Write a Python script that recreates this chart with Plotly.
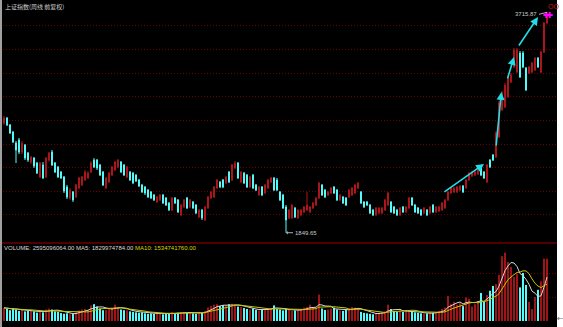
import plotly.graph_objects as go
import pandas as pd

# ---------------- data (weekly) ----------------
opens = [2779, 2821, 2762, 2702, 2609, 2635, 2533, 2592, 2525, 2449,
         2482, 2440, 2322, 2423, 2322, 2465, 2533, 2440, 2406, 2364,
         2322, 2237, 2144, 2195, 2152, 2228, 2254, 2296, 2313, 2364,
         2465, 2465, 2423, 2364, 2228, 2279, 2338, 2381, 2406, 2449,
         2423, 2322, 2364, 2355, 2338, 2296, 2254, 2237, 2211, 2195,
         2169, 2110, 2127, 2169, 2144, 2101, 2042, 2144, 2127, 2000,
         2068, 2144, 2068, 2110, 2084, 1983, 2042, 1957, 2059, 2144,
         2152, 2228, 2279, 2296, 2271, 2364, 2296, 2398, 2440, 2279,
         2355, 2338, 2237, 2338, 2254, 2169, 2237, 2186, 2228, 2279,
         2313, 2296, 2195, 2169, 2068, 1974, 1974, 2059, 1974, 2000,
         2025, 2042, 2025, 2059, 2084, 2144, 2254, 2211, 2169, 2186,
         2237, 2211, 2127, 2152, 2144, 2152, 2169, 2186, 2228, 2195,
         2110, 2110, 2084, 2042, 2000, 2017, 2017, 2042, 2084, 2110,
         2068, 2042, 2000, 2068, 2025, 2059, 2144, 2084, 2059, 2042,
         2017, 2042, 2017, 2084, 2025, 2034, 2042, 2059, 2127, 2186,
         2195, 2195, 2211, 2245, 2228, 2296, 2330, 2338, 2347, 2398,
         2364, 2279, 2465, 2508, 2491, 2660, 2889, 2914, 2999, 3126,
         3253, 3210, 3371, 3371, 3244, 3202, 3210, 3227, 3329, 3210,
         3380, 3625]
highs = [2838, 2829, 2770, 2711, 2626, 2652, 2626, 2601, 2533, 2499,
         2491, 2449, 2449, 2449, 2491, 2533, 2550, 2449, 2415, 2372,
         2330, 2254, 2228, 2203, 2262, 2322, 2330, 2381, 2372, 2457,
         2482, 2474, 2432, 2372, 2322, 2364, 2415, 2457, 2474, 2457,
         2432, 2415, 2372, 2364, 2347, 2305, 2262, 2245, 2220, 2203,
         2178, 2161, 2178, 2178, 2152, 2110, 2152, 2152, 2135, 2093,
         2135, 2152, 2135, 2118, 2093, 2051, 2051, 2076, 2161, 2203,
         2245, 2305, 2288, 2305, 2330, 2372, 2432, 2457, 2449, 2372,
         2364, 2347, 2330, 2347, 2262, 2245, 2245, 2262, 2305, 2322,
         2322, 2313, 2203, 2178, 2084, 2051, 2093, 2068, 2051, 2051,
         2076, 2195, 2076, 2110, 2152, 2279, 2262, 2220, 2203, 2237,
         2245, 2220, 2178, 2161, 2152, 2220, 2237, 2262, 2279, 2203,
         2118, 2118, 2093, 2051, 2068, 2068, 2068, 2135, 2195, 2118,
         2076, 2051, 2068, 2076, 2076, 2152, 2152, 2093, 2068, 2051,
         2068, 2051, 2076, 2093, 2076, 2076, 2110, 2135, 2203, 2237,
         2237, 2245, 2254, 2254, 2305, 2364, 2372, 2372, 2389, 2406,
         2372, 2432, 2474, 2516, 2711, 2965, 3050, 3117, 3185, 3202,
         3414, 3414, 3388, 3388, 3253, 3261, 3295, 3337, 3337, 3388,
         3634, 3715.87]
lows = [2762, 2753, 2686, 2609, 2440, 2516, 2516, 2465, 2449, 2432,
        2398, 2347, 2313, 2305, 2313, 2449, 2415, 2355, 2313, 2305,
        2186, 2135, 2127, 2110, 2144, 2220, 2245, 2288, 2305, 2355,
        2398, 2381, 2330, 2245, 2220, 2271, 2330, 2372, 2398, 2355,
        2330, 2313, 2288, 2262, 2279, 2237, 2186, 2169, 2144, 2135,
        2118, 2101, 2118, 2093, 2076, 2034, 2034, 2093, 2017, 1991,
        2059, 2051, 2059, 2051, 2008, 1974, 1957, 1949, 2051, 2135,
        2144, 2220, 2228, 2228, 2262, 2271, 2288, 2389, 2305, 2271,
        2262, 2228, 2228, 2220, 2203, 2161, 2161, 2178, 2220, 2271,
        2203, 2203, 2118, 2051, 1849.65, 1966, 1966, 1974, 1966, 1991,
        2017, 2034, 2017, 2051, 2076, 2135, 2161, 2144, 2161, 2178,
        2178, 2118, 2118, 2093, 2076, 2144, 2161, 2178, 2220, 2093,
        2059, 2076, 2008, 1991, 1991, 2008, 2008, 2034, 2076, 2017,
        2008, 1991, 1991, 2017, 2017, 2051, 2076, 2017, 2008, 1991,
        2008, 1991, 2008, 2017, 2017, 2025, 2034, 2051, 2118, 2178,
        2186, 2186, 2203, 2186, 2220, 2288, 2322, 2330, 2338, 2330,
        2305, 2271, 2398, 2457, 2482, 2652, 2880, 2905, 2990, 3117,
        3244, 3202, 3160, 3244, 3050, 3193, 3202, 3219, 3244, 3202,
        3371, 3617]
closes = [2821, 2762, 2694, 2618, 2550, 2533, 2609, 2482, 2465, 2491,
          2415, 2355, 2440, 2313, 2482, 2525, 2423, 2364, 2322, 2313,
          2203, 2152, 2211, 2127, 2254, 2313, 2322, 2364, 2355, 2440,
          2406, 2398, 2338, 2254, 2313, 2355, 2406, 2449, 2465, 2364,
          2338, 2406, 2296, 2271, 2288, 2245, 2195, 2186, 2152, 2144,
          2127, 2152, 2169, 2101, 2084, 2042, 2144, 2101, 2025, 2084,
          2127, 2059, 2127, 2059, 2017, 2042, 1974, 2068, 2152, 2195,
          2237, 2296, 2237, 2237, 2322, 2279, 2423, 2440, 2313, 2364,
          2271, 2237, 2322, 2228, 2211, 2237, 2169, 2254, 2296, 2313,
          2211, 2211, 2127, 2059, 1957, 2042, 2084, 1983, 2042, 2042,
          2068, 2084, 2068, 2101, 2144, 2271, 2169, 2152, 2195, 2228,
          2186, 2127, 2169, 2101, 2084, 2211, 2228, 2254, 2271, 2101,
          2068, 2084, 2017, 2000, 2059, 2059, 2059, 2127, 2186, 2025,
          2017, 2000, 2059, 2025, 2068, 2144, 2084, 2025, 2017, 2000,
          2059, 2000, 2068, 2025, 2068, 2068, 2101, 2127, 2195, 2228,
          2228, 2237, 2245, 2195, 2296, 2355, 2364, 2364, 2381, 2338,
          2313, 2423, 2406, 2465, 2694, 2948, 3033, 3100, 3168, 3185,
          3397, 3397, 3168, 3253, 3058, 3253, 3287, 3329, 3253, 3380,
          3625, 3693]
# weekly volume, in units of 1e8
volumes_e8 = [5.5, 5.0, 4.5, 5.2, 4.8, 4.2, 4.6, 4.0, 4.2, 4.5,
              4.0, 3.5, 3.8, 3.6, 4.8, 5.2, 4.8, 4.0, 3.8, 3.3,
              3.0, 3.2, 2.8, 3.0, 3.6, 4.4, 4.8, 5.0, 4.6, 6.5,
              7.0, 6.0, 5.2, 4.5, 4.6, 5.0, 5.4, 6.8, 5.8, 4.8,
              4.5, 4.4, 4.0, 3.8, 3.6, 3.4, 3.6, 3.2, 3.0, 3.2,
              3.0, 3.4, 3.2, 2.8, 3.0, 3.2, 3.6, 3.2, 3.4, 3.6,
              3.8, 3.5, 3.4, 3.2, 3.0, 3.8, 3.4, 4.2, 5.6, 6.2,
              6.8, 7.0, 6.2, 6.6, 6.4, 7.0, 7.2, 6.8, 6.0, 5.8,
              5.4, 5.0, 4.8, 5.2, 4.6, 4.4, 4.8, 5.0, 5.2, 5.4,
              6.5, 5.0, 4.8, 4.4, 5.0, 4.6, 4.2, 4.4, 4.6, 5.0,
              5.6, 5.8, 6.8, 5.4, 5.0, 11.0, 5.2, 4.6, 4.8, 5.2,
              5.6, 4.8, 4.4, 4.2, 4.6, 5.4, 5.8, 5.6, 5.0, 3.8,
              3.4, 3.2, 3.0, 2.8, 3.2, 3.4, 3.6, 4.0, 6.8, 5.0,
              4.2, 3.8, 4.4, 3.8, 4.6, 4.2, 4.0, 3.6, 3.4, 3.2,
              3.0, 3.2, 3.6, 3.4, 3.6, 4.2, 5.0, 5.6, 10.4, 7.0,
              8.0, 6.8, 7.4, 6.2, 9.8, 9.2, 6.0, 7.0, 8.2, 11.7,
              8.0, 10.8, 12.6, 14.6, 15.4, 19.2, 27.0, 28.5, 24.6, 22.5,
              18.3, 19.6, 14.0, 20.0, 15.0, 8.0, 5.0, 10.0, 13.0, 16.5,
              26.0, 25.95]

title_text = "上证指数(周线 前复权)"
vol_text = "VOLUME: 2595096064.00 MA5: 1829974784.00 "
ma10_text = "MA10: 1534741760.00"
price_grid = [2000, 2200, 2400, 2600, 2800, 3000, 3200, 3400, 3600]
vol_grid = [1e9, 2e9]
# hand-drawn trend arrows: (tail index, tail price, head index, head price)
trend_arrows = [(146.3, 2186, 160.0, 2432),
                (164.0, 2575, 165.8, 3041),
                (167.7, 3143, 170.0, 3337),
                (171.3, 3422, 178.0, 3676)]

# ---------------- derived ----------------
N = len(closes)
idx = list(range(N))
vols = [v * 1e8 for v in volumes_e8]
vs = pd.Series(vols)
ma5 = vs.rolling(5, min_periods=1).mean()
ma10 = vs.rolling(10, min_periods=1).mean()

RED = "#b0161b"
VRED = "#a01418"
CYAN = "#54fcfc"
W, H = 563, 327
PR = 557          # right edge of black chart area (px)
SEP = 243         # separator between price and volume panes (px)
split = 1 - SEP / H

vcolors = [VRED if c >= o else CYAN for o, c in zip(opens, closes)]

fig = go.Figure()
fig.add_trace(go.Candlestick(
    x=idx, open=opens, high=highs, low=lows, close=closes,
    increasing=dict(line=dict(color=RED, width=1), fillcolor=RED),
    decreasing=dict(line=dict(color=CYAN, width=1), fillcolor=CYAN),
    whiskerwidth=0, hoverinfo="skip", showlegend=False))
fig.add_trace(go.Bar(x=idx, y=vols, marker=dict(color=vcolors, line=dict(width=0)),
                     width=0.68, yaxis="y2", hoverinfo="skip", showlegend=False))
fig.add_trace(go.Scatter(x=idx, y=ma5, yaxis="y2", mode="lines",
                         line=dict(color="#d8d8d8", width=1), hoverinfo="skip", showlegend=False))
fig.add_trace(go.Scatter(x=idx, y=ma10, yaxis="y2", mode="lines",
                         line=dict(color="#c8c800", width=1), hoverinfo="skip", showlegend=False))
# magenta markers at the latest high
fig.add_trace(go.Scatter(x=[N - 1.2, N - 0.1], y=[highs[-1] - 22] * 2, mode="markers",
                         marker=dict(symbol="cross", size=5, color="#ff00ff", line=dict(width=0)),
                         hoverinfo="skip", showlegend=False))

grid = dict(showgrid=True, gridcolor="#700000", griddash="1px,2px", gridwidth=1,
            zeroline=False, showticklabels=False, ticks="", showline=False)

fig.update_layout(
    width=W, height=H, margin=dict(l=0, r=0, t=0, b=0),
    paper_bgcolor="black", plot_bgcolor="black",
    hovermode=False, boxgap=0.55, bargap=0.3,
    xaxis=dict(domain=[0, PR / W], range=[-4 / 3, (PR - 4) / 3],
               showgrid=False, zeroline=False, showticklabels=False, ticks="",
               rangeslider=dict(visible=False), fixedrange=True),
    yaxis=dict(domain=[split, 1], range=[3820 - 8.466 * SEP, 3820],
               tickvals=price_grid, fixedrange=True, **grid),
    yaxis2=dict(domain=[0, split], range=[-0.25e9, 3.25e9], anchor="x",
                tickvals=vol_grid, fixedrange=True, **grid),
)

shapes = [
    dict(type="line", xref="paper", yref="paper", x0=0, x1=PR / W, y0=split, y1=split,
         line=dict(color="#a00000", width=1)),
    dict(type="rect", xref="paper", yref="paper", x0=PR / W, x1=1, y0=0, y1=1,
         fillcolor="white", line=dict(width=0), layer="above"),
    dict(type="rect", xref="paper", yref="paper", x0=0, x1=2 / W, y0=0, y1=1,
         fillcolor="#a0a0a0", line=dict(width=0), layer="above"),
]
fig.update_layout(shapes=shapes)

FONT = "Liberation Sans, Arial, sans-serif"
ann = []
ann.append(dict(xref="paper", yref="paper", x=3 / W, y=1 - 6 / H, xanchor="left", yanchor="middle",
                text=title_text, showarrow=False,
                font=dict(family="Noto Sans CJK SC", size=6, color="#d0d0d0")))
ann.append(dict(xref="paper", yref="paper", x=2 / W, y=1 - 248 / H, xanchor="left", yanchor="middle",
                text=vol_text + "<span style='color:#d8d800'>" + ma10_text + "</span>",
                showarrow=False, font=dict(family=FONT, size=6, color="#d8d8d8")))
ann.append(dict(xref="paper", yref="paper", x=553 / W, y=1 - 6 / H, xanchor="center", yanchor="middle",
                text="OO", showarrow=False, font=dict(family=FONT, size=7, color="#d01010")))
ann.append(dict(xref="paper", yref="paper", x=560 / W, y=1 - 318 / H, xanchor="center", yanchor="middle",
                text="←", showarrow=False, font=dict(family="DejaVu Sans", size=8, color="#707070")))
# max / min labels
imax = highs.index(max(highs))
imin = lows.index(min(lows))
ann.append(dict(x=imax, y=highs[imax], xref="x", yref="y", text=f"{highs[imax]:.2f}",
                showarrow=True, arrowhead=0, arrowwidth=1, arrowcolor="#b0b0b0",
                ax=-8, ay=2, xanchor="right", yanchor="middle",
                font=dict(family=FONT, size=6, color="#c8c8c8")))
ann.append(dict(x=imin, y=lows[imin], xref="x", yref="y", text=f"{lows[imin]:.2f}",
                showarrow=True, arrowhead=1, arrowsize=0.6, arrowwidth=1, arrowcolor="#b0b0b0",
                ax=7, ay=0, xanchor="left", yanchor="middle",
                font=dict(family=FONT, size=6, color="#c8c8c8")))
for (tx, ty, hx, hy) in trend_arrows:
    ann.append(dict(x=hx, y=hy, ax=tx, ay=ty, xref="x", yref="y", axref="x", ayref="y",
                    text="", showarrow=True, arrowhead=2, arrowsize=1, arrowwidth=1.6,
                    arrowcolor="#22dde6"))
fig.update_layout(annotations=ann)

fig.write_html("out.html")
